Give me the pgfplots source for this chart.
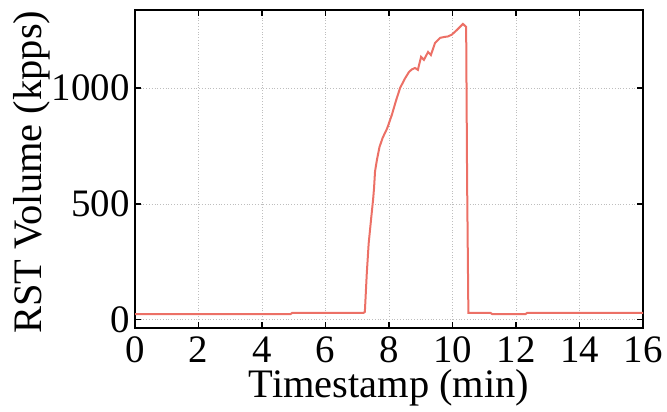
\documentclass[border=0pt]{standalone}
\usepackage{fontspec}
\setmainfont{Liberation Serif}
\usepackage{pgfplots}
\pgfplotsset{compat=1.18}
\usetikzlibrary{calc}
\definecolor{rstred}{RGB}{236,112,102}
\definecolor{gridgray}{RGB}{190,190,190}

\begin{document}
\begin{tikzpicture}
\begin{axis}[
name=ax,
scale only axis,
width=254bp,
height=159bp,
xmin=0,xmax=16,
ymin=-35,ymax=1336,
xtick={0,2,...,16},
ytick={0,500,1000},
grid=major,
grid style={draw=gridgray,densely dotted,line width=0.4bp},
axis line style={line width=0.8bp},
major tick length=3bp,
tick style={black,line width=0.6bp},
/pgf/number format/assume math mode=true,
/pgf/number format/1000 sep={},
every tick label/.append style={font=\fontsize{19.5}{22}\selectfont},
xticklabel style={inner sep=0pt,yshift=-3.5bp,text height=13.5bp,text depth=0pt},
yticklabel style={inner sep=0pt,xshift=-2.5bp},
label style={font=\fontsize{20.3}{24}\selectfont},
xlabel={Timestamp (min)},
ylabel={RST Volume (kpps)},
xlabel style={at={(axis description cs:0.5,-0.218)},anchor=base,inner sep=0pt,text height=14bp},
ylabel style={at={(axis description cs:-0.184,0.49)},anchor=base,inner sep=0pt},
]
\addplot[rstred,line width=1bp] coordinates {
(0,25) (4.9,25) (4.95,30) (7.2,30) (7.24,35) (7.30,200) (7.36,330) (7.44,440) (7.50,520)
(7.53,570) (7.56,640) (7.62,690) (7.70,745) (7.80,785) (7.94,825) (8.09,884)
(8.22,945) (8.35,1000) (8.50,1040) (8.63,1069) (8.72,1080) (8.82,1086) (8.91,1078)
(9.01,1134) (9.10,1121) (9.23,1155) (9.32,1142) (9.45,1194) (9.61,1216)
(9.75,1220) (9.86,1222) (9.98,1230) (10.14,1250) (10.25,1265) (10.33,1276)
(10.43,1263) (10.46,600) (10.50,30) (11.2,30) (11.25,25) (12.3,25) (12.35,30) (16,30)
};
\end{axis}
\pgfresetboundingbox
\path ($(ax.south west)+(-67.5bp,-42bp)$) rectangle ($(ax.north east)+(12bp,5bp)$);
\end{tikzpicture}
\end{document}
